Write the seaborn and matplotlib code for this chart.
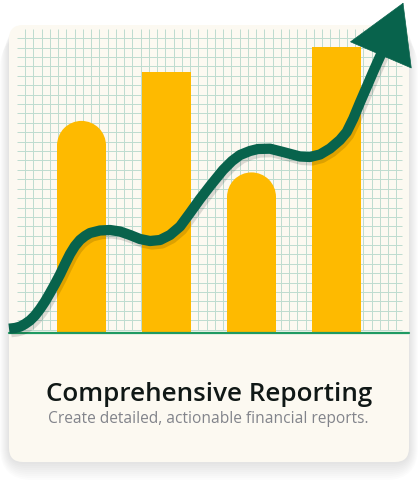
import numpy as np
import matplotlib
matplotlib.use("Agg")
import matplotlib.pyplot as plt
import matplotlib.patheffects as pe
from matplotlib.patches import FancyBboxPatch, Ellipse
import seaborn as sns

# bar data
quarters = ["Q1", "Q2", "Q3", "Q4"]
revenue = [70, 86, 53, 94.5]
rounded_bars = [0, 2]

# trend curve (x in bar-category units, y on the bar scale), last point = arrow tip
trend_x = [-0.853, -0.782, -0.724, -0.665, -0.606, -0.547, -0.488, -0.429, -0.371,
           -0.312, -0.253, -0.194, -0.135, -0.077, -0.018, 0.041, 0.100, 0.218,
           0.335, 0.453, 0.571, 0.688, 0.806, 0.924, 1.041, 1.159, 1.276, 1.394,
           1.512, 1.665, 1.771, 1.865, 1.982, 2.076, 2.218, 2.371, 2.571, 2.688,
           2.806, 2.924, 3.041, 3.120, 3.198, 3.276, 3.355, 3.433, 3.561, 3.786]
trend_y = [1.42, 1.65, 2.08, 2.97, 4.13, 5.78, 7.92, 10.40, 13.20,
           16.17, 19.31, 22.77, 26.07, 28.71, 30.69, 32.01, 33.00, 33.83,
           33.99, 33.50, 32.34, 31.02, 30.36, 30.69, 32.34, 35.15, 39.60, 44.22,
           48.51, 53.80, 56.77, 58.75, 60.07, 60.73, 60.83, 59.74, 58.25, 58.09,
           58.91, 60.89, 63.70, 66.34, 70.79, 76.07, 81.19, 86.30, 94.32, 109.01]

title = "Comprehensive Reporting"
subtitle = "Create detailed, actionable financial reports."

W, H = 420, 494
YELLOW = "#FEBA00"
GREEN = "#08634c"
LINE_GREEN = "#1f9a62"
CARD = "#FCF9F1"
GRID = "#bedccf"

sns.set_theme(style="white")
plt.rcParams["font.family"] = ["Open Sans", "DejaVu Sans"]

fig = plt.figure(figsize=(W / 100, H / 100), dpi=100, facecolor="white")

# backdrop in pixel coordinates: card, shadow, grid, text
bg = fig.add_axes([0, 0, 1, 1], zorder=0)
bg.set_xlim(0, W)
bg.set_ylim(H, 0)
bg.axis("off")

for k in range(1, 10):
    s = k * 2.0
    bg.add_patch(FancyBboxPatch((9 - s * 0.5, 25 + s * 0.6), 400 + s, 437 + s * 0.4,
                                boxstyle=f"round,pad=0,rounding_size={14 + s}",
                                facecolor="black", edgecolor="none", alpha=0.012))
bg.add_patch(FancyBboxPatch((9, 25), 400, 437, boxstyle="round,pad=0,rounding_size=14",
                            facecolor=CARD, edgecolor="none"))

vx = np.arange(25, 402, 8.25)
hy = np.arange(38.3, 331, 9.4)
bg.vlines(vx, 29, 330, color=GRID, lw=0.7)
bg.hlines(hy, 17, 402, color=GRID, lw=0.7)

bg.text(209, 400.7, title, ha="center", va="baseline", fontsize=18.7,
        fontweight="semibold", color="#101816")
bg.text(208, 422.5, subtitle, ha="center", va="baseline", fontsize=11.2,
        color="#82848b")

# chart axes
ax = fig.add_axes([9 / W, (H - 333) / H, 400 / W, 303 / H], zorder=1)
ax.patch.set_alpha(0)
sns.barplot(x=quarters, y=revenue, color=YELLOW, saturation=1, width=0.576,
            linewidth=0, edgecolor="none", ax=ax)
ax.set_xlim(-0.853, 3.853)
ax.set_ylim(0, 100)
ax.axis("off")

# rounded tops
bb = ax.get_window_extent()
px_x = bb.width / (3.853 + 0.853)
px_y = bb.height / 100
for i in rounded_bars:
    p = ax.patches[i]
    w = p.get_width()
    h = p.get_height()
    ry = (w * px_x / 2) / px_y
    p.set_height(h - ry + 0.3)
    ax.add_patch(Ellipse((p.get_x() + w / 2, h - ry), w, 2 * ry,
                         facecolor=YELLOW, edgecolor="none", lw=0, zorder=p.get_zorder()))

ax.axhline(0, color=LINE_GREEN, lw=1.6, clip_on=False, zorder=3)

sns.lineplot(x=trend_x[:-1], y=trend_y[:-1], sort=False, estimator=None,
             color=GREEN, lw=7.4, ax=ax, zorder=4)
curve = ax.lines[-1]
curve.set_solid_capstyle("butt")
curve.set_solid_joinstyle("round")
curve.set_clip_on(False)
curve.set_path_effects([pe.SimpleLineShadow(offset=(1.5, -2.5), shadow_color="black", alpha=0.13),
                        pe.Normal()])

ann = ax.annotate("", xy=(trend_x[-1], trend_y[-1]), xytext=(trend_x[-2], trend_y[-2]),
                  arrowprops=dict(arrowstyle="-|>,head_length=4.04,head_width=2.38",
                                  mutation_scale=10, color=GREEN, lw=0.5,
                                  shrinkA=0, shrinkB=0),
                  annotation_clip=False, zorder=5)
ann.arrow_patch.set_clip_on(False)

fig.savefig("out.png", dpi=100, facecolor="white")
